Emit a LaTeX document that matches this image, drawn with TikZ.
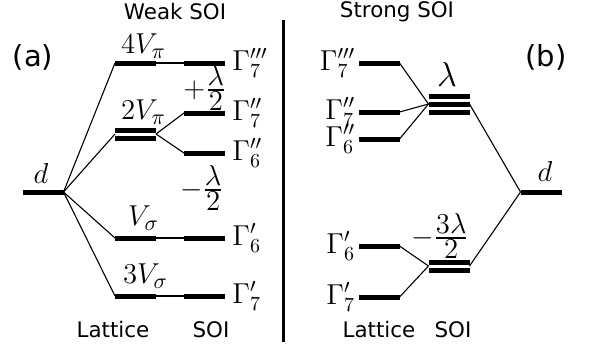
\documentclass[tikz,border=0pt]{standalone}
\usepackage{amsmath}
\usepackage[no-math]{fontspec}
\newfontfamily\sansdv{DejaVu Sans}
\usetikzlibrary{positioning,fit}
\newcommand{\halff}[2]{\frac{\textstyle #1}{\textstyle #2}}

\begin{document}
\begin{tikzpicture}[
    x=0.5pt, y=-0.5pt,
    lvl/.style={fill=black, minimum width=20.5pt, minimum height=2.5pt,
      inner sep=0pt, outer sep=0pt},
    grp/.style={inner sep=0pt, outer sep=0pt},
    conn/.style={line width=0.55pt},
    divider/.style={line width=1.5pt},
    gam/.style={font=\fontsize{14}{16}\selectfont, inner sep=0pt},
    lab/.style={font=\fontsize{15}{17}\selectfont, inner sep=0pt},
    frc/.style={font=\fontsize{13.5}{15}\selectfont, inner sep=0pt},
    txt/.style={font=\sansdv\fontsize{10.7}{12}\selectfont, inner sep=0pt},
    tag/.style={font=\sansdv\fontsize{14.5}{16}\selectfont, inner sep=0pt}
]
\useasboundingbox (0,0) rectangle (592,350);

% titles
\node[txt] (weak) at (175,12) {Weak SOI};
\node[txt] (strong) at (397,12) {Strong SOI};
\node[tag] (tagA) at (33,57) {(a)};
\node[tag] (tagB) at (546,57) {(b)};
\draw[divider] (283,20) -- (283,342);

% (a) weak SOI
\node[lvl] (dA) at (43,192) {};
\node[lvl] (pi4) at (135.5,63) {};
\node[lvl] (pi2a) at (135.5,130) {};
\node[lvl] (pi2b) at (135.5,138) {};
\node[grp, fit=(pi2a)(pi2b)] (pi2) {};
\node[lvl] (sg1) at (135.5,238) {};
\node[lvl] (sg3) at (135.5,296) {};
\node[lvl] (g7c) at (204.5,63) {};
\node[lvl] (g7b) at (204.5,113) {};
\node[lvl] (g6b) at (204.5,153) {};
\node[lvl] (g6a) at (204.5,238) {};
\node[lvl] (g7a) at (204.5,296) {};

\node[lab, above=3pt of dA, xshift=-1pt] (dAl) {$d$};
\node[lab, above=1pt of pi4, xshift=4pt] (pi4l) {$4V_\pi$};
\node[lab, above=1.5pt of pi2, xshift=4pt] (pi2l) {$2V_\pi$};
\node[lab, above=2.5pt of sg1, xshift=4pt] (sg1l) {$V_\sigma$};
\node[lab, above=2.5pt of sg3, xshift=5pt] (sg3l) {$3V_\sigma$};
\node[gam, right=3.5pt of g7c] (g7cl) {$\Gamma_7'''$};
\node[gam, right=3.5pt of g7b] (g7bl) {$\Gamma_7''$};
\node[gam, right=3.5pt of g6b] (g6bl) {$\Gamma_6''$};
\node[gam, right=3.5pt of g6a] (g6al) {$\Gamma_6'$};
\node[gam, right=3.5pt of g7a] (g7al) {$\Gamma_7'$};
\node[frc] (plus) at (205,88) {$+\halff{\lambda}{2}$};
\node[frc] (minus) at (202,188) {$-\halff{\lambda}{2}$};

\draw[conn] (dA.east) -- (pi4.west);
\draw[conn] (dA.east) -- (pi2.west);
\draw[conn] (dA.east) -- (sg1.west);
\draw[conn] (dA.east) -- (sg3.west);
\draw[conn] (pi4.east) -- (g7c.west);
\draw[conn] (pi2.east) -- (g7b.west);
\draw[conn] (pi2.east) -- (g6b.west);
\draw[conn] (sg1.east) -- (g6a.west);
\draw[conn] (sg3.east) -- (g7a.west);

\node[txt] (latA) at (113,330) {Lattice};
\node[txt] (soiA) at (211,330) {SOI};

% (b) strong SOI
\node[lvl] (h7c) at (379,63) {};
\node[lvl] (h7b) at (379,112) {};
\node[lvl] (h6b) at (379,139) {};
\node[lvl] (h6a) at (379,246) {};
\node[lvl] (h7a) at (379,297) {};
\node[lvl] (lamA) at (449,96) {};
\node[lvl] (lamB) at (449,104) {};
\node[lvl] (lamC) at (449,112) {};
\node[grp, fit=(lamA)(lamC)] (lam) {};
\node[lvl] (tlA) at (449,262) {};
\node[lvl] (tlB) at (449,270) {};
\node[grp, fit=(tlA)(tlB)] (tl) {};
\node[lvl] (dB) at (541,192) {};

\node[gam, left=1.5pt of h7c] (h7cl) {$\Gamma_7'''$};
\node[gam, left=1.5pt of h7b] (h7bl) {$\Gamma_7''$};
\node[gam, left=1.5pt of h6b] (h6bl) {$\Gamma_6''$};
\node[gam, left=1.5pt of h6a] (h6al) {$\Gamma_6'$};
\node[gam, left=1.5pt of h7a] (h7al) {$\Gamma_7'$};
\node[lab, font=\fontsize{16}{18}\selectfont, above=3.5pt of lam,
  xshift=-1pt] (laml) {$\lambda$};
\node[frc] (tll) at (440,236) {$-\halff{3\lambda}{2}$};
\node[lab, above=4pt of dB, xshift=2pt] (dBl) {$d$};

\draw[conn] (h7c.east) -- (lam.west);
\draw[conn] (h7b.east) -- (lam.west);
\draw[conn] (h6b.east) -- (lam.west);
\draw[conn] (lam.east) -- (dB.west);
\draw[conn] (dB.west) -- (tl.east);
\draw[conn] (h6a.east) -- (tl.west);
\draw[conn] (h7a.east) -- (tl.west);

\node[txt] (latB) at (379,330) {Lattice};
\node[txt] (soiB) at (453,330) {SOI};
\end{tikzpicture}
\end{document}
